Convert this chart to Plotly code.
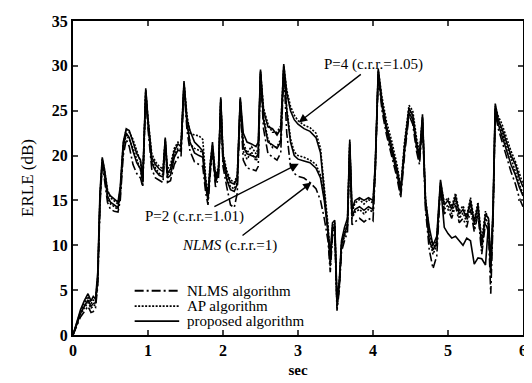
import plotly.graph_objects as go

t = [0, 0.05, 0.1, 0.15, 0.2, 0.24, 0.27, 0.3, 0.33, 0.36, 0.39, 0.42, 0.46, 0.5, 0.55, 0.6, 0.63, 0.67, 0.71, 0.75,
     0.8, 0.85, 0.9, 0.93, 0.97, 1.0, 1.05, 1.1, 1.15, 1.2, 1.23, 1.26, 1.3, 1.35, 1.4, 1.44, 1.48, 1.52, 1.56, 1.62,
     1.68, 1.73, 1.77, 1.8, 1.83, 1.86, 1.9, 1.94, 1.97, 2.0, 2.05, 2.1, 2.15, 2.19, 2.23, 2.27, 2.32, 2.38, 2.44, 2.47,
     2.5, 2.54, 2.6, 2.66, 2.72, 2.77, 2.81, 2.85, 2.9, 2.95, 3.0, 3.08, 3.16, 3.24, 3.3, 3.35, 3.4, 3.43, 3.46, 3.49,
     3.52, 3.55, 3.58, 3.62, 3.66, 3.69, 3.72, 3.76, 3.82, 3.88, 3.94, 4.0, 4.03, 4.07, 4.12, 4.18, 4.25, 4.32, 4.37, 4.42,
     4.48, 4.53, 4.58, 4.62, 4.66, 4.7, 4.75, 4.8, 4.85, 4.9, 4.95, 5.0, 5.05, 5.1, 5.15, 5.2, 5.25, 5.3, 5.35, 5.4,
     5.45, 5.5, 5.54, 5.57, 5.6, 5.63, 5.67, 5.72, 5.78, 5.84, 5.9, 5.95, 6.0]

proposed_p4 = [0, 1.5, 2.8, 3.8, 4.6, 3.8, 4.3, 4.0, 7, 16, 19.8, 18.5, 16.0, 15.5, 15.2, 14.8, 16.5, 21.5, 23.0, 22.8,
               21.5, 20.2, 19.5, 17.5, 27.5, 24, 19.8, 19.0, 18.5, 18.2, 22.0, 18.0, 18.5, 20.5, 21.3, 21.0, 28.3, 24, 22.8, 21.5,
               21.0, 20.5, 17, 15.5, 19, 21.5, 17.5, 18.5, 26.5, 20, 18, 17.0, 16.8, 17.5, 26.5, 22.5, 21.5, 21.3, 21.0, 21.5,
               29.6, 25, 23.2, 23, 22.3, 23, 30.2, 27, 25, 24, 23.5, 23.0, 22.7, 22.0, 20.3, 16, 12, 9, 12.5, 12.8,
               4, 6, 10.5, 12, 13, 21.8, 14, 15.0, 15.3, 15.0, 15.3, 15.0, 19, 29.7, 26, 23.2, 21, 18.5, 16.2, 21,
               25.3, 24.5, 21.5, 20, 24.6, 15, 12, 10, 11, 17.3, 14.5, 15, 14, 15.5, 13.5, 14.0, 13, 15, 12.5, 14.5,
               10, 13.5, 13, 8, 14, 25.8, 24, 23, 21.5, 20, 19, 17.5, 16.5]

ap_p4 = [0, 1.4, 2.6, 3.5, 4.3, 3.5, 3.9, 3.8, 6.5, 15.5, 19.6, 18.4, 16.2, 15.3, 15.0, 14.6, 16.2, 21.3, 22.9, 22.6,
         21.8, 20.5, 19.3, 17.3, 27.3, 24.2, 20.2, 19.3, 18.8, 18.5, 21.8, 18.5, 19.0, 20.8, 21.5, 21.3, 28.1, 24.5, 22.5, 22.3,
         22.2, 21.8, 17.5, 15.8, 19.3, 21.2, 17.8, 18.7, 26.3, 20.3, 18.3, 17.3, 17.0, 17.8, 26.3, 21.5, 20.3, 21.0, 20.2, 20.8,
         29.4, 25.3, 23.5, 22.6, 22.6, 23.3, 30.0, 27.3, 25.5, 24.5, 23.9, 23.4, 23.1, 22.5, 20.8, 16.5, 12.3, 8.5, 12.2, 12.5,
         3.6, 5.8, 10.2, 11.7, 12.8, 21.5, 13.7, 14.7, 15.1, 14.6, 15.1, 14.7, 18.8, 29.5, 26.5, 23.8, 21.6, 19.0, 16.5, 21.5,
         25.6, 25.0, 22.0, 20.3, 24.3, 15.3, 11.5, 9.6, 10.6, 17.0, 14.8, 15.3, 14.3, 15.8, 13.8, 14.4, 13.3, 15.3, 12.8, 14.8,
         10.5, 13.8, 12.8, 7.6, 13.6, 25.5, 24.4, 23.5, 22.0, 20.5, 19.3, 18.0, 16.8]

proposed_p2 = [0, 1.3, 2.4, 3.2, 3.9, 3.2, 3.5, 3.6, 6.2, 15.2, 19.3, 18.0, 15.5, 14.8, 14.5, 14.2, 15.8, 21.0, 22.5, 22.0,
               20.5, 19.2, 18.5, 17.0, 27.2, 23.5, 19.2, 18.3, 17.8, 17.6, 21.7, 17.5, 17.8, 19.8, 20.6, 20.5, 28.0, 23.5, 21.5, 20.3,
               20.0, 19.8, 16.5, 15.0, 18.5, 20.8, 17.0, 18.0, 26.2, 19.5, 17.3, 16.2, 16.0, 16.8, 26.2, 21.0, 20.2, 20.0, 19.8, 20.2,
               29.3, 24.0, 21.5, 21.2, 20.8, 21.5, 29.8, 25, 21.5, 20.0, 19.6, 19.4, 19.2, 18.6, 17.5, 15.0, 11.5, 8.0, 11.8, 12.2,
               3.2, 5.5, 10.0, 11.2, 12.3, 21.3, 13.2, 14.0, 14.3, 13.9, 14.3, 14.0, 18.5, 29.3, 25.5, 22.8, 20.5, 18.0, 15.8, 20.5,
               24.8, 24.0, 21.0, 19.5, 24.2, 14.5, 10.5, 9.5, 10.2, 16.8, 12.0, 11.3, 10.8, 11.0, 10.5, 10.0, 10.8, 10.5, 7.9, 8.6,
               8.5, 7.8, 12.5, 7.0, 13.2, 25.3, 23.5, 22.2, 20.5, 19.0, 17.8, 16.5, 15.5]

ap_p2 = [0, 1.2, 2.3, 3.0, 3.6, 3.0, 3.2, 3.4, 6.0, 15.0, 19.2, 17.8, 15.3, 14.6, 14.3, 14.0, 15.6, 20.8, 22.3, 21.8,
         20.8, 19.6, 18.4, 16.8, 27.0, 23.8, 19.5, 18.6, 18.0, 17.9, 21.5, 17.8, 18.2, 20.1, 20.8, 20.7, 27.8, 23.8, 21.3, 20.8,
         20.6, 20.3, 16.8, 15.3, 18.7, 20.5, 17.3, 18.2, 26.0, 19.8, 17.6, 16.5, 16.3, 17.0, 26.0, 20.5, 19.6, 20.4, 19.4, 19.9,
         29.1, 24.3, 21.8, 20.9, 21.0, 21.8, 29.6, 25.3, 21.9, 20.4, 20.0, 19.8, 19.5, 19.0, 17.8, 15.3, 11.8, 7.6, 11.5, 12.0,
         3.0, 5.3, 9.8, 11.0, 12.0, 21.0, 13.0, 13.7, 14.0, 13.5, 14.0, 13.7, 18.3, 29.1, 26.0, 23.3, 21.0, 18.4, 16.0, 21.0,
         25.2, 24.4, 21.4, 19.8, 23.9, 14.8, 10.8, 9.0, 10.0, 16.6, 14.0, 14.5, 13.5, 15.0, 13.0, 13.6, 12.6, 14.6, 12.0, 14.0,
         9.6, 13.0, 12.3, 6.8, 13.0, 25.0, 23.8, 22.6, 21.0, 19.5, 18.2, 16.8, 15.8]

nlms = [0, 1.0, 2.0, 2.6, 3.2, 2.5, 2.6, 3.0, 5.5, 14.5, 19.0, 17.3, 14.8, 14.0, 13.8, 13.7, 15.0, 20.0, 21.8, 21.0,
        19.0, 18.0, 17.5, 16.5, 26.8, 23.0, 18.5, 17.5, 17.2, 17.0, 21.3, 17.0, 17.2, 19.0, 19.8, 19.8, 27.6, 22.8, 20.5, 19.3,
        19.0, 18.8, 15.8, 14.5, 18.0, 20.3, 16.5, 17.5, 25.8, 18.8, 16.5, 14.5, 14.2, 15.8, 25.8, 19.5, 18.6, 18.5, 18.3, 18.8,
        29.0, 23.0, 20.2, 19.8, 19.5, 20.3, 29.5, 22.5, 18.8, 18.0, 17.7, 17.5, 17.0, 16.3, 15.0, 13.0, 10.5, 7.0, 11.0, 11.5,
        2.7, 5.0, 9.3, 10.5, 11.5, 20.8, 12.3, 12.6, 13.0, 12.6, 13.0, 12.7, 18.0, 29.0, 25.0, 22.3, 20.0, 17.5, 15.3, 20.0,
        24.5, 23.5, 20.5, 19.0, 23.7, 14.0, 9.5, 7.4, 8.8, 16.5, 13.5, 14.0, 13.0, 14.5, 12.5, 13.0, 12.0, 14.0, 11.5, 13.5,
        9.0, 12.5, 11.5, 4.6, 12.5, 24.8, 23.0, 21.5, 19.8, 18.2, 16.8, 15.3, 14.3]

legend_names = ["NLMS algorithm", "AP algorithm", "proposed algorithm"]
x_ticks = [0, 1, 2, 3, 4, 5, 6]
y_ticks = [0, 5, 10, 15, 20, 25, 30, 35]

SERIF = "Liberation Serif"
DASHDOT = "9px,3px,2px,3px"
DOT = "2px,1.5px"
STYLES = [DASHDOT, DOT, "solid"]

fig = go.Figure()
series = [
    (nlms, 0, legend_names[0]),
    (ap_p2, 1, legend_names[1] + " (P=2)"),
    (ap_p4, 1, legend_names[1] + " (P=4)"),
    (proposed_p2, 2, legend_names[2] + " (P=2)"),
    (proposed_p4, 2, legend_names[2] + " (P=4)"),
]
for ys, k, name in series:
    fig.add_trace(go.Scatter(
        x=t, y=ys, mode="lines", name=name, showlegend=False,
        line=dict(color="black", width=1.6, dash=STYLES[k]),
    ))

# compact legend (the native one cannot be this tight)
leg_rows = [0.141, 0.092, 0.044]
for k, (name, yy) in enumerate(zip(legend_names, leg_rows)):
    fig.add_shape(type="line", xref="paper", yref="paper",
                  x0=0.137, x1=0.236, y0=yy, y1=yy,
                  line=dict(color="black", width=1.8, dash=STYLES[k]))
    fig.add_annotation(xref="paper", yref="paper", x=0.249, y=yy, text=name,
                       showarrow=False, xanchor="left", yanchor="middle",
                       font=dict(family=SERIF, size=15, color="black"))

annots = [
    dict(x=3.01, y=23.7, text="P=4 (c.r.r.=1.05)", ax=75, ay=-58),
    dict(x=3.01, y=19.1, text="P=2 (c.r.r.=1.01)", ax=-104, ay=53),
    dict(x=3.18, y=17.0, text="<i>NLMS</i> (c.r.r.=1)", ax=-82, ay=63),
]
for a in annots:
    fig.add_annotation(
        x=a["x"], y=a["y"], text=a["text"], ax=a["ax"], ay=a["ay"],
        showarrow=True, arrowhead=2, arrowsize=1.2, arrowwidth=1.4, arrowcolor="black",
        font=dict(family=SERIF, size=15, color="black"),
    )

# the page body has an 8px default margin, so the figure is 8px smaller
fig.update_layout(
    width=524, height=375,
    margin=dict(l=65, r=5, t=7, b=48),
    paper_bgcolor="white", plot_bgcolor="white",
    showlegend=False,
)
fig.update_xaxes(
    range=[0, 6], tickvals=x_ticks, ticks="inside", ticklen=5, tickwidth=1.5,
    showline=True, linecolor="black", linewidth=2, mirror="ticks",
    showgrid=False, zeroline=False, ticklabeloverflow="allow",
    tickfont=dict(family=SERIF, size=16, color="black", weight="bold"),
    title=dict(text="sec", font=dict(family=SERIF, size=15, color="black", weight="bold"), standoff=6),
)
fig.update_yaxes(
    range=[0, 35], tickvals=y_ticks, ticks="inside", ticklen=5, tickwidth=1.5,
    showline=True, linecolor="black", linewidth=2, mirror="ticks",
    showgrid=False, zeroline=False, ticklabeloverflow="allow",
    tickfont=dict(family=SERIF, size=16, color="black", weight="bold"),
    title=dict(text="ERLE (dB)", font=dict(family=SERIF, size=17, color="black"), standoff=14),
)

fig.write_html("out.html")
